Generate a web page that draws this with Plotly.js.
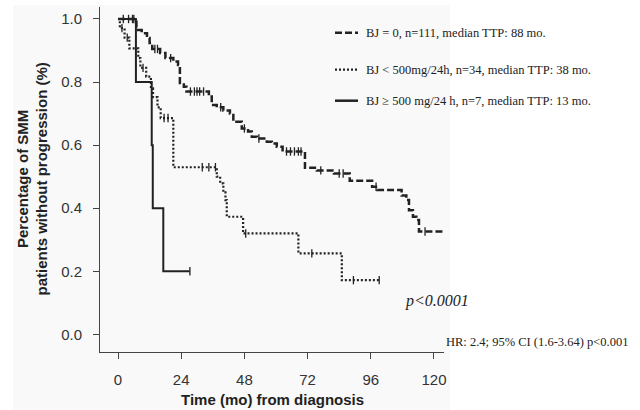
<!DOCTYPE html>
<html>
<head>
<meta charset="utf-8">
<script src="https://cdn.plot.ly/plotly-3.0.1.min.js"></script>
<style>html,body{margin:0;padding:0;background:#fff;}#chart{width:640px;height:410px;}</style>
</head>
<body>
<div id="chart"></div>
<script>
// ---- Data (months, proportion without progression) ----
const legendLabels = [
  "BJ = 0, n=111, median TTP: 88 mo.",
  "BJ < 500mg/24h, n=34, median TTP: 38 mo.",
  "BJ \u2265 500 mg/24 h, n=7, median TTP: 13 mo."
];

// BJ = 0 (dashed)
const bj0Times = [0, 7, 9, 11, 12, 13, 16, 18, 21, 22.8, 23.5, 25, 26, 34.5, 35.6, 37.5, 40, 42.5, 43.8, 47, 49.4, 50.8, 52.7, 56.5, 58.4, 60.3, 62.5, 71, 75.5, 82, 88, 96.5, 98.5, 107.7, 109.5, 110.5, 112, 113.3, 114.3];
const bj0Surv  = [1.0, 0.965, 0.955, 0.94, 0.924, 0.905, 0.892, 0.876, 0.865, 0.854, 0.797, 0.785, 0.77, 0.754, 0.727, 0.72, 0.71, 0.70, 0.674, 0.653, 0.643, 0.627, 0.621, 0.611, 0.605, 0.595, 0.58, 0.528, 0.52, 0.51, 0.487, 0.468, 0.458, 0.44, 0.426, 0.394, 0.373, 0.363, 0.326];
const bj0End = 124;
const bj0Censor = [2, 4, 5.5, 14, 15, 20, 27.5, 29, 30, 31, 32.5, 39, 48, 53.5, 64, 65.5, 67, 68.5, 69.5, 77, 84, 85.5, 98, 116.6, 124];

// BJ < 500 mg/24h (dotted)
const bjLowTimes = [0, 0.7, 2.5, 4.3, 7.7, 8.5, 10.7, 12.5, 13.3, 15, 16.2, 21, 37.5, 38.8, 40, 40.8, 41.3, 47.5, 68.5, 85];
const bjLowSurv  = [1.0, 0.971, 0.941, 0.907, 0.876, 0.845, 0.817, 0.78, 0.752, 0.72, 0.686, 0.53, 0.5, 0.479, 0.45, 0.426, 0.373, 0.32, 0.257, 0.172];
const bjLowEnd = 99.2;
const bjLowCensor = [1.5, 3.5, 9.5, 17.5, 19, 32, 34.5, 37, 48.5, 73.6, 89.4, 99.2];

// BJ >= 500 mg/24h (solid)
const bjHighTimes = [0, 6.8, 12.8, 13.2, 17.2];
const bjHighSurv  = [1.0, 0.8, 0.6, 0.4, 0.2];
const bjHighEnd = 27.3;
const bjHighCensor = [6, 27.3];

const xTicks = [0, 24, 48, 72, 96, 120];
const yTicks = [0, 0.2, 0.4, 0.6, 0.8, 1.0];

// ---- helpers ----
function stepAt(times, surv, t) {
  let v = surv[0];
  for (let i = 0; i < times.length; i++) { if (times[i] <= t) v = surv[i]; }
  return v;
}
const ink = '#222';
function curve(times, surv, end, dash, width) {
  return {
    type: 'scatter', mode: 'lines', showlegend: false,
    x: times.concat([end]), y: surv.concat([surv[surv.length - 1]]),
    line: {shape: 'hv', color: ink, width: width, dash: dash},
    hoverinfo: 'skip', cliponaxis: false
  };
}
function censors(times, surv, cens) {
  return {
    type: 'scatter', mode: 'markers', showlegend: false,
    x: cens, y: cens.map(t => stepAt(times, surv, t)),
    marker: {symbol: 'line-ns', size: 6, color: ink, line: {color: ink, width: 1.3}},
    hoverinfo: 'skip', cliponaxis: false
  };
}

const traces = [
  curve(bj0Times, bj0Surv, bj0End, '7px,3px', 2.5),
  censors(bj0Times, bj0Surv, bj0Censor),
  curve(bjLowTimes, bjLowSurv, bjLowEnd, '2px,2px', 2.2),
  censors(bjLowTimes, bjLowSurv, bjLowCensor),
  curve(bjHighTimes, bjHighSurv, bjHighEnd, 'solid', 2),
  censors(bjHighTimes, bjHighSurv, bjHighCensor)
];

const L = 100, R = 196, T = 7, B = 58, W = 640 - L - R, H = 410 - T - B;
const px = v => (v - L) / W;          // pixel x -> paper x
const py = v => (410 - B - v) / H;    // pixel y -> paper y

const serif = 'Liberation Serif, Times New Roman, serif';
const sans = 'Liberation Sans, Arial, sans-serif';

const legY = [32.7, 69.7, 100.7];
const legDash = ['7px,3px', '2px,2px', 'solid'];
const legW = [2.5, 2.2, 2.5];

const annotations = legendLabels.map((t, i) => ({
  xref: 'paper', yref: 'paper', x: px(364), y: py(legY[i]), xanchor: 'left', yanchor: 'middle',
  text: t, showarrow: false, font: {family: serif, size: 12.5, color: '#222'}
}));
annotations.push({
  xref: 'paper', yref: 'paper', x: px(403), y: py(301), xanchor: 'left', yanchor: 'middle',
  text: '<i>p&lt;0.0001</i>', showarrow: false, font: {family: serif, size: 16, color: '#222'}
});
annotations.push({
  xref: 'paper', yref: 'paper', x: px(444), y: py(342), xanchor: 'left', yanchor: 'middle',
  text: 'HR: 2.4; 95% CI (1.6-3.64) p&lt;0.001', showarrow: false, font: {family: serif, size: 12.5, color: '#222'}
});
annotations.push({
  xref: 'paper', yref: 'paper', x: 0.5, y: py(399), xanchor: 'center', yanchor: 'middle',
  text: '<b>Time (mo) from diagnosis</b>', showarrow: false, font: {family: sans, size: 15, color: '#222'}
});
annotations.push({
  xref: 'paper', yref: 'paper', x: px(31.5), y: py(179), xanchor: 'center', yanchor: 'middle', textangle: -90,
  text: '<b>Percentage of SMM<br>patients without progression (%)</b>', showarrow: false,
  font: {family: sans, size: 15, color: '#222'}
});

const shapes = [{
  type: 'rect', xref: 'paper', yref: 'paper', layer: 'below',
  x0: px(13), x1: px(450), y0: py(410), y1: py(5), fillcolor: '#f9f9f9', line: {width: 0}
}];
legendLabels.forEach((t, i) => shapes.push({
  type: 'line', xref: 'paper', yref: 'paper', x0: px(335), x1: px(358), y0: py(legY[i]), y1: py(legY[i]),
  line: {color: ink, width: legW[i], dash: legDash[i]}
}));

const layout = {
  width: 640, height: 410,
  margin: {l: L, r: R, t: T, b: B, pad: 0},
  paper_bgcolor: '#ffffff', plot_bgcolor: 'rgba(0,0,0,0)',
  showlegend: false,
  xaxis: {
    range: [-6.84, 123.8], tickvals: xTicks, ticktext: xTicks.map(String),
    showgrid: false, zeroline: false, showline: true, linecolor: '#444', linewidth: 1,
    ticks: 'outside', ticklen: 6, tickcolor: '#444', ticklabelstandoff: 8,
    tickfont: {family: sans, size: 15, color: '#333'}, fixedrange: true
  },
  yaxis: {
    range: [-0.0558, 1.038], tickvals: yTicks, ticktext: yTicks.map(v => v.toFixed(1)),
    showgrid: false, zeroline: false, showline: true, linecolor: '#444', linewidth: 1,
    ticks: 'outside', ticklen: 6, tickcolor: '#444', ticklabelstandoff: 8,
    tickfont: {family: sans, size: 15, color: '#333'}, fixedrange: true
  },
  annotations: annotations,
  shapes: shapes
};

Plotly.newPlot('chart', traces, layout, {displayModeBar: false, staticPlot: true});
</script>
</body>
</html>
